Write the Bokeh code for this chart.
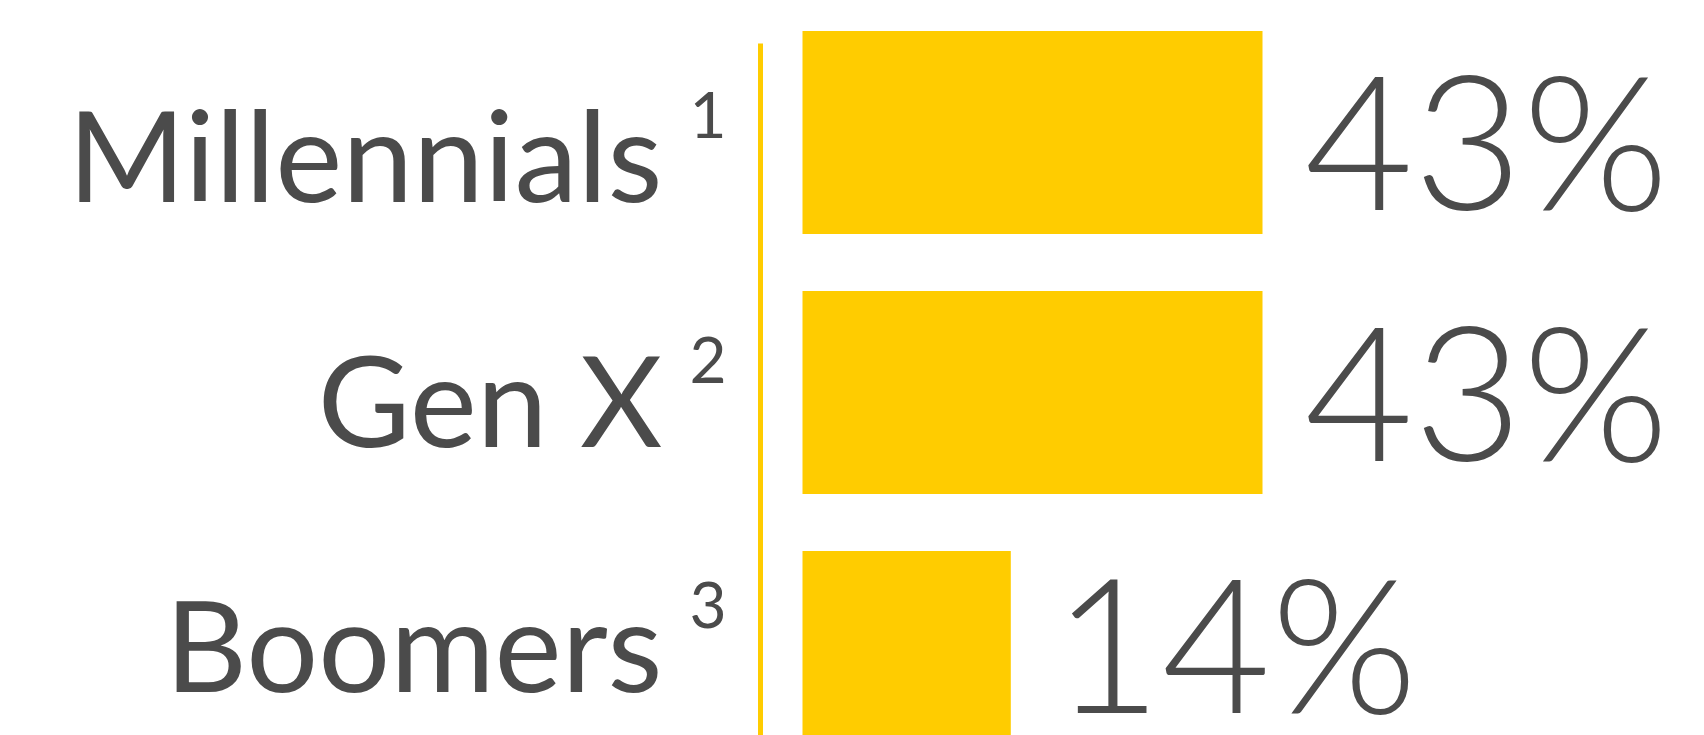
from bokeh.plotting import figure
from bokeh.models import ColumnDataSource, Range1d
from bokeh.core.properties import value
from bokeh.embed import file_html
from bokeh.resources import INLINE

# ---- data ----
generations = ["Millennials", "Gen X", "Boomers"]
footnotes = ["1", "2", "3"]
shares = [43, 43, 14]
share_labels = ["43%", "43%", "14%"]

rows = list(range(len(generations)))
BAR_BASE = -10  # visual stub so small bars stay visible

src = ColumnDataSource(dict(
    row=rows,
    gen=generations,
    note=footnotes,
    share=shares,
    label=share_labels,
    base=[BAR_BASE] * len(shares),
))

W, H = 1704, 735
px_per_unit = 460 / (max(shares) - BAR_BASE)
x_start = BAR_BASE - 802 / px_per_unit
x_end = x_start + W / px_per_unit

bar_top = -132 / 260
lab_top = -152 / 245
val_top = -136 / 251.5

p = figure(width=W, height=H, output_backend="svg", toolbar_location=None,
           x_range=Range1d(x_start, x_end),
           y_range=Range1d(bar_top + H / 260, bar_top),
           min_border=0, outline_line_color=None,
           background_fill_color="white", border_fill_color="white")
p.extra_y_ranges = {
    "labels": Range1d(lab_top + H / 245, lab_top),
    "values": Range1d(val_top + H / 251.5, val_top),
}
p.xaxis.visible = False
p.yaxis.visible = False
p.grid.visible = False

YELLOW = "#FFCC00"
GREY = "#4B4B4B"

# bars
p.hbar(y="row", left="base", right="share", height=0.78, source=src,
       fill_color=YELLOW, line_color=None)

# vertical divider
line_x = BAR_BASE - 42 / px_per_unit
p.segment(x0=[line_x], x1=[line_x], y0=[bar_top + 43 / 260], y1=[3],
          line_color=YELLOW, line_width=5)

# category labels
p.text(x="base", y="row", text="gen", source=src, y_range_name="labels",
       x_offset=-140, text_align="right", text_baseline="middle",
       text_font=value("Lato"), text_font_size="127px", text_color=GREY)

# footnote superscripts
p.text(x="base", y="row", text="note", source=src, y_range_name="labels",
       x_offset=-113, y_offset=-38, text_align="left", text_baseline="middle",
       text_font=value("Lato"), text_font_size="64px", text_color=GREY)

# value labels
p.text(x="share", y="row", text="label", source=src, y_range_name="values",
       x_offset=42, text_align="left", text_baseline="middle",
       text_font=value("Lato Light"), text_font_size="188px", text_color=GREY)

open("out.html", "w").write(file_html(p, INLINE))
